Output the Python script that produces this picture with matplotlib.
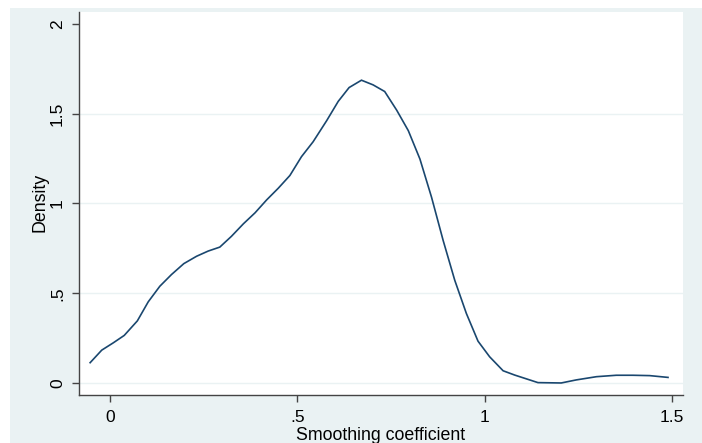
import matplotlib
matplotlib.use("Agg")
import matplotlib.pyplot as plt
from matplotlib.patches import Rectangle

# Data
x_vals = [-0.053, -0.022, 0.009, 0.038, 0.073, 0.102, 0.133, 0.164, 0.197, 0.231,
          0.262, 0.293, 0.324, 0.356, 0.387, 0.418, 0.449, 0.480, 0.511, 0.542,
          0.578, 0.609, 0.638, 0.671, 0.702, 0.733, 0.765, 0.796, 0.827, 0.858,
          0.889, 0.920, 0.951, 0.982, 1.013, 1.049, 1.080, 1.142, 1.204, 1.244,
          1.298, 1.351, 1.395, 1.440, 1.489]
density = [0.113, 0.183, 0.224, 0.265, 0.346, 0.452, 0.539, 0.604, 0.665, 0.706,
           0.735, 0.757, 0.817, 0.887, 0.948, 1.020, 1.085, 1.156, 1.261, 1.344,
           1.461, 1.569, 1.646, 1.687, 1.661, 1.624, 1.520, 1.406, 1.248, 1.035,
           0.794, 0.572, 0.387, 0.233, 0.146, 0.068, 0.044, 0.002, 0.0, 0.017,
           0.035, 0.043, 0.043, 0.041, 0.031]
x_ticks = [0, 0.5, 1, 1.5]
x_ticklabels = ["0", ".5", "1", "1.5"]
y_ticks = [0, 0.5, 1, 1.5, 2]
y_ticklabels = ["0", ".5", "1", "1.5", "2"]

plt.rcParams['font.family'] = ['Liberation Sans', 'DejaVu Sans']

W, H = 702, 443
fig = plt.figure(figsize=(W / 100, H / 100), dpi=100)
fig.patch.set_facecolor('white')
fig.patches.append(Rectangle((10 / W, 0), 1 - 10 / W, 1 - 8 / H,
                             transform=fig.transFigure, facecolor='#EAF2F3',
                             edgecolor='none', zorder=-10))

left, right, top, bottom = 79, 683, 12, 395
ax = fig.add_axes([left / W, 1 - bottom / H, (right - left) / W, (bottom - top) / H])
ax.set_facecolor('white')

ax.plot(x_vals, density, color='#1A476F', lw=1.2, solid_joinstyle='miter', zorder=3)

ax.set_xlim(-0.0827, 1.529)
ax.set_ylim(-0.067, 2.067)

ax.set_xticks(x_ticks)
ax.set_xticklabels(x_ticklabels)
ax.set_yticks(y_ticks)
ax.set_yticklabels(y_ticklabels, rotation=90, va='center')

for y in [0, 0.5, 1, 1.5]:
    ax.axhline(y, color='#EAF2F3', lw=1.0, zorder=1)

for s in ['top', 'right']:
    ax.spines[s].set_visible(False)
for s in ['left', 'bottom']:
    ax.spines[s].set_color('#444444')
    ax.spines[s].set_linewidth(1.0)

ax.tick_params(axis='both', direction='out', length=5, width=1.0, color='#444444',
               labelsize=12.5, labelcolor='black')
ax.tick_params(axis='y', pad=5.0)
ax.tick_params(axis='x', pad=5.5)

ax.set_xlabel('Smoothing coefficient', fontsize=12.8)
ax.xaxis.label.set_va('baseline')
ax.xaxis.set_label_coords(381 / W, 1 - 440 / H, transform=fig.transFigure)

ax.set_ylabel('Density', fontsize=12.8)
ax.yaxis.label.set_va('center')
ax.yaxis.set_label_coords(40 / W, 1 - 202 / H, transform=fig.transFigure)

fig.savefig('out.png', dpi=100, facecolor='white')
